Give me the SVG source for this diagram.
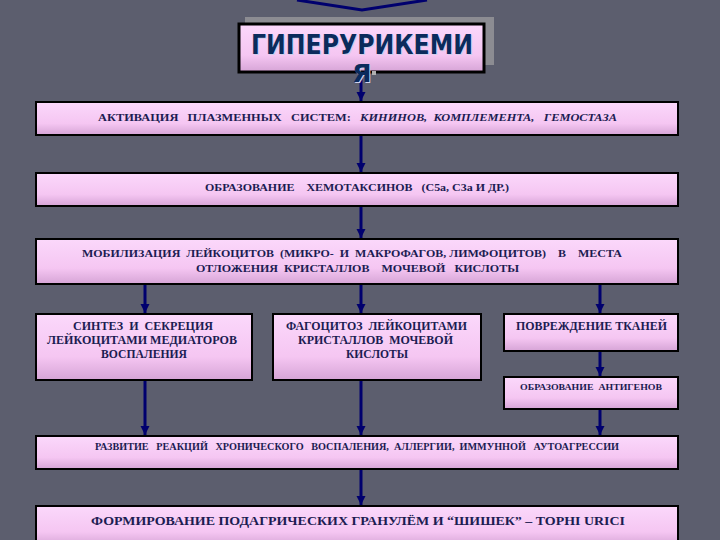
<svg xmlns="http://www.w3.org/2000/svg" width="720" height="540" viewBox="0 0 720 540">
<defs>
<linearGradient id="pink" x1="0" y1="0" x2="0" y2="1">
<stop offset="0" stop-color="#fbd8fb"/>
<stop offset="0.65" stop-color="#f5c6f2"/>
<stop offset="1" stop-color="#d6a4d6"/>
</linearGradient>
<marker id="ah" markerUnits="userSpaceOnUse" markerWidth="10" markerHeight="10" refX="9" refY="5" orient="auto">
<path d="M0,0.5 L9,5 L0,9.5 z" fill="#00006e"/>
</marker>
</defs>
<style>
.box{fill:url(#pink);stroke:#000;stroke-width:2}
.t{font-family:"Liberation Serif","Times New Roman",serif;font-weight:bold;fill:#1c1c52;white-space:pre}
.c{stroke:#00006e;stroke-width:3;fill:none}
</style>
<rect width="720" height="540" fill="#5c5e6e"/>

<g id="connectors">
<polyline class="c" points="297,0 362,10 427,0"/>
<line class="c" x1="361" y1="72" x2="361" y2="101" marker-end="url(#ah)"/>
<line class="c" x1="361" y1="135" x2="361" y2="172" marker-end="url(#ah)"/>
<line class="c" x1="361" y1="206" x2="361" y2="238" marker-end="url(#ah)"/>
<line class="c" x1="145" y1="284" x2="145" y2="313" marker-end="url(#ah)"/>
<line class="c" x1="361" y1="284" x2="361" y2="313" marker-end="url(#ah)"/>
<line class="c" x1="600" y1="284" x2="600" y2="313" marker-end="url(#ah)"/>
<line class="c" x1="600" y1="351" x2="600" y2="376" marker-end="url(#ah)"/>
<line class="c" x1="145" y1="380" x2="145" y2="435" marker-end="url(#ah)"/>
<line class="c" x1="361" y1="380" x2="361" y2="435" marker-end="url(#ah)"/>
<line class="c" x1="600" y1="409" x2="600" y2="435" marker-end="url(#ah)"/>
<line class="c" x1="361" y1="469" x2="361" y2="505" marker-end="url(#ah)"/>
</g>

<g id="title">
<rect x="245" y="17" width="249" height="48" fill="#8c8c92"/>
<rect class="box" x="239" y="24" width="245" height="48" style="stroke-width:3"/>
<text x="252" y="55" font-family="DejaVu Sans,Verdana,sans-serif" font-weight="bold" font-size="26" fill="#d0d0ec" textLength="222" lengthAdjust="spacingAndGlyphs">ГИПЕРУРИКЕМИ</text>
<text x="251" y="54" font-family="DejaVu Sans,Verdana,sans-serif" font-weight="bold" font-size="26" fill="#0b2b5c" textLength="222" lengthAdjust="spacingAndGlyphs">ГИПЕРУРИКЕМИ</text>
<text x="363" y="83" text-anchor="middle" font-family="DejaVu Sans,Verdana,sans-serif" font-weight="bold" font-size="25" fill="#d0d0ec">Я</text>
<text x="362" y="82" text-anchor="middle" font-family="DejaVu Sans,Verdana,sans-serif" font-weight="bold" font-size="25" fill="#0b2b5c">Я</text>
<rect x="372" y="71" width="4" height="4" fill="#b0b0b0"/>
</g>

<g id="n1">
<rect class="box" x="36" y="102" width="642" height="33"/>
<text class="t" x="98" y="121" font-size="11" textLength="519" lengthAdjust="spacingAndGlyphs">АКТИВАЦИЯ   ПЛАЗМЕННЫХ   СИСТЕМ:   <tspan font-style="italic">КИНИНОВ,  КОМПЛЕМЕНТА,   ГЕМОСТАЗА</tspan></text>
</g>

<g id="n2">
<rect class="box" x="36" y="173" width="642" height="33"/>
<text class="t" x="205" y="191" font-size="11" textLength="304" lengthAdjust="spacingAndGlyphs">ОБРАЗОВАНИЕ    ХЕМОТАКСИНОВ   (C5a, C3a И ДР.)</text>
</g>

<g id="n3">
<rect class="box" x="36" y="239" width="642" height="45"/>
<text class="t" x="82" y="257" font-size="11" textLength="540" lengthAdjust="spacingAndGlyphs">МОБИЛИЗАЦИЯ  ЛЕЙКОЦИТОВ  (МИКРО-  И  МАКРОФАГОВ, ЛИМФОЦИТОВ)    В    МЕСТА</text>
<text class="t" x="196" y="272" font-size="11" textLength="323" lengthAdjust="spacingAndGlyphs">ОТЛОЖЕНИЯ  КРИСТАЛЛОВ    МОЧЕВОЙ   КИСЛОТЫ</text>
</g>

<g id="n4">
<rect class="box" x="36" y="314" width="216" height="66"/>
<text class="t" x="73" y="330" font-size="11.5" textLength="140" lengthAdjust="spacingAndGlyphs">СИНТЕЗ  И  СЕКРЕЦИЯ</text>
<text class="t" x="47" y="344" font-size="11.5" textLength="190" lengthAdjust="spacingAndGlyphs">ЛЕЙКОЦИТАМИ МЕДИАТОРОВ</text>
<text class="t" x="101" y="358" font-size="11.5" textLength="86" lengthAdjust="spacingAndGlyphs">ВОСПАЛЕНИЯ</text>
</g>

<g id="n5">
<rect class="box" x="273" y="314" width="208" height="66"/>
<text class="t" x="286" y="330" font-size="11.5" textLength="181" lengthAdjust="spacingAndGlyphs">ФАГОЦИТОЗ  ЛЕЙКОЦИТАМИ</text>
<text class="t" x="298" y="344" font-size="11.5" textLength="155" lengthAdjust="spacingAndGlyphs">КРИСТАЛЛОВ  МОЧЕВОЙ</text>
<text class="t" x="346" y="358" font-size="11.5" textLength="62" lengthAdjust="spacingAndGlyphs">КИСЛОТЫ</text>
</g>

<g id="n6">
<rect class="box" x="504" y="314" width="174" height="37"/>
<text class="t" x="516" y="330" font-size="11.5" textLength="151" lengthAdjust="spacingAndGlyphs">ПОВРЕЖДЕНИЕ ТКАНЕЙ</text>
</g>

<g id="n7">
<rect class="box" x="504" y="377" width="174" height="32"/>
<text class="t" x="520" y="390" font-size="9" textLength="142" lengthAdjust="spacingAndGlyphs">ОБРАЗОВАНИЕ  АНТИГЕНОВ</text>
</g>

<g id="n8">
<rect class="box" x="36" y="436" width="642" height="33"/>
<text class="t" x="95" y="450" font-size="10" textLength="524" lengthAdjust="spacingAndGlyphs">РАЗВИТИЕ   РЕАКЦИЙ   ХРОНИЧЕСКОГО   ВОСПАЛЕНИЯ,  АЛЛЕРГИИ,  ИММУННОЙ   АУТОАГРЕССИИ</text>
</g>

<g id="n9">
<rect class="box" x="36" y="506" width="642" height="40"/>
<text class="t" x="91" y="525" font-size="13" textLength="534" lengthAdjust="spacingAndGlyphs">ФОРМИРОВАНИЕ ПОДАГРИЧЕСКИХ ГРАНУЛЁМ И “ШИШЕК” – TOPHI URICI</text>
</g>
</svg>
